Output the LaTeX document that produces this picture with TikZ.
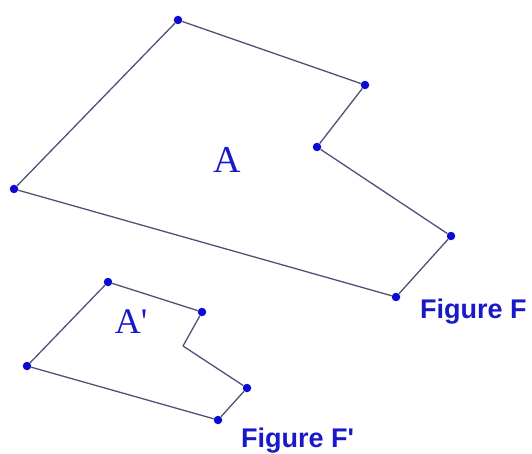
\documentclass[tikz,border=0pt]{standalone}
\usepackage{fontspec}
\newfontfamily\regfont{Liberation Serif}
\newfontfamily\labelfont{Liberation Sans}

\definecolor{dotblue}{RGB}{10,10,210}
\definecolor{edgegray}{RGB}{80,80,120}
\definecolor{textblue}{RGB}{25,25,200}

\tikzset{
  vertex/.style={circle, fill=dotblue, inner sep=0pt, minimum size=8.5pt},
  edge/.style={draw=edgegray, line width=1.3pt},
  figname/.style={text=textblue, font=\labelfont\bfseries\fontsize{27}{29}\selectfont, inner sep=0pt},
  regname/.style={text=textblue, inner sep=0pt}
}

\begin{document}
\begin{tikzpicture}[x=1pt, y=-1pt]
    \useasboundingbox (0,0) rectangle (532,454);

    % figure F
    \node[vertex] (f1) at (178,20) {};
    \node[vertex] (f2) at (365,85) {};
    \node[vertex] (f3) at (317,147) {};
    \node[vertex] (f4) at (451,236) {};
    \node[vertex] (f5) at (396,297) {};
    \node[vertex] (f6) at (14,189) {};

    \draw[edge] (f1) -- (f2);
    \draw[edge] (f2) -- (f3);
    \draw[edge] (f3) -- (f4);
    \draw[edge] (f4) -- (f5);
    \draw[edge] (f5) -- (f6);
    \draw[edge] (f6) -- (f1);

    % figure F'
    \node[vertex] (g1) at (108,282) {};
    \node[vertex] (g2) at (202,312) {};
    \coordinate (g3) at (183,346);
    \node[vertex] (g4) at (247,388) {};
    \node[vertex] (g5) at (218,420) {};
    \node[vertex] (g6) at (27,366) {};

    \draw[edge] (g1) -- (g2);
    \draw[edge] (g2) -- (g3);
    \draw[edge] (g3) -- (g4);
    \draw[edge] (g4) -- (g5);
    \draw[edge] (g5) -- (g6);
    \draw[edge] (g6) -- (g1);

    % labels
    \node[regname, font=\regfont\fontsize{38}{40}\selectfont] (areaA) at (227,160) {A};
    \node[regname, font=\regfont\fontsize{36}{38}\selectfont] (areaB) at (131,322) {A'};
    \node[figname, anchor=base west] (nameF) at (420,318) {Figure F};
    \node[figname, anchor=base west] (nameG) at (241,447) {Figure F'};
\end{tikzpicture}
\end{document}
